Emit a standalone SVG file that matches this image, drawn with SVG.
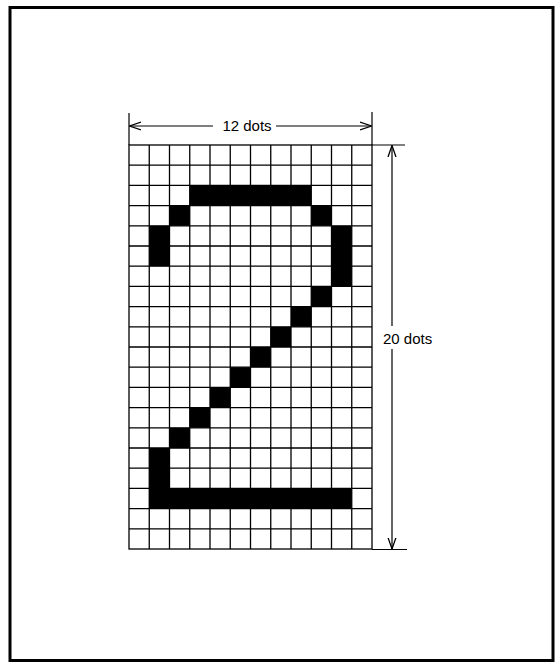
<svg xmlns="http://www.w3.org/2000/svg" width="559" height="664" viewBox="0 0 559 664">
<defs>
<style>
.frame{fill:none;stroke:#000;stroke-width:3}
.grid{stroke:#000;stroke-width:1.3;fill:none}
.dot{fill:#000}
.dim{stroke:#000;stroke-width:1.2;fill:none}
.lbl{font-family:"Liberation Sans",Arial,sans-serif;font-size:15px;fill:#000}
</style>
<marker id="arr" viewBox="0 0 12 10" refX="11.5" refY="5" markerWidth="12" markerHeight="10" markerUnits="userSpaceOnUse" orient="auto">
<path d="M0,1 L11.5,5 L0,9" fill="none" stroke="#000" stroke-width="1.3"/>
</marker>
</defs>
<rect width="559" height="664" fill="#fff"/>
<rect class="frame" x="10" y="7.5" width="543" height="653"/>

<g id="dots">
<rect class="dot" x="189.75" y="185.4" width="121.5" height="20.2"/>
<rect class="dot" x="169.5" y="205.6" width="20.25" height="20.2"/>
<rect class="dot" x="311.25" y="205.6" width="20.25" height="20.2"/>
<rect class="dot" x="149.25" y="225.8" width="20.25" height="40.4"/>
<rect class="dot" x="331.5" y="225.8" width="20.25" height="60.6"/>
<rect class="dot" x="311.25" y="286.4" width="20.25" height="20.2"/>
<rect class="dot" x="291" y="306.6" width="20.25" height="20.2"/>
<rect class="dot" x="270.75" y="326.8" width="20.25" height="20.2"/>
<rect class="dot" x="250.5" y="347" width="20.25" height="20.2"/>
<rect class="dot" x="230.25" y="367.2" width="20.25" height="20.2"/>
<rect class="dot" x="210" y="387.4" width="20.25" height="20.2"/>
<rect class="dot" x="189.75" y="407.6" width="20.25" height="20.2"/>
<rect class="dot" x="169.5" y="427.8" width="20.25" height="20.2"/>
<rect class="dot" x="149.25" y="448" width="20.25" height="60.6"/>
<rect class="dot" x="149.25" y="488.4" width="202.5" height="20.2"/>
</g>

<g id="grid" class="grid">
<rect x="129" y="145" width="243" height="404"/>
<path d="M149.25,145V549M169.5,145V549M189.75,145V549M210,145V549M230.25,145V549M250.5,145V549M270.75,145V549M291,145V549M311.25,145V549M331.5,145V549M351.75,145V549"/>
<path d="M129,165.2H372M129,185.4H372M129,205.6H372M129,225.8H372M129,246H372M129,266.2H372M129,286.4H372M129,306.6H372M129,326.8H372M129,347H372M129,367.2H372M129,387.4H372M129,407.6H372M129,427.8H372M129,448H372M129,468.2H372M129,488.4H372M129,508.6H372M129,528.8H372"/>
</g>

<g id="connectors">
<path class="dim" d="M129,113V145M372,112V145"/>
<path class="dim" d="M372,145H405M372,549.5H407"/>
<path class="dim" d="M213,126H129.5" marker-end="url(#arr)"/>
<path class="dim" d="M276,126H371.5" marker-end="url(#arr)"/>
<path class="dim" d="M392,326V145.5" marker-end="url(#arr)"/>
<path class="dim" d="M392,349V549" marker-end="url(#arr)"/>
</g>

<g id="label-width">
<text class="lbl" x="247" y="131" text-anchor="middle">12 dots</text>
</g>
<g id="label-height">
<text class="lbl" x="383" y="344">20 dots</text>
</g>
</svg>
